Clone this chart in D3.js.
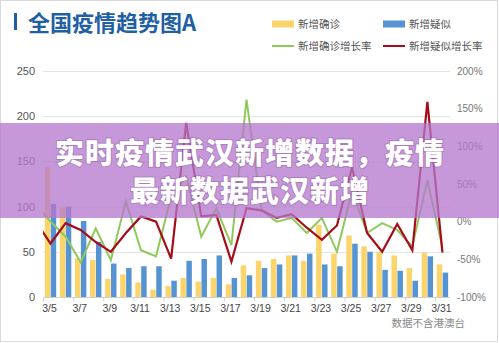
<!DOCTYPE html>
<html><head><meta charset="utf-8">
<script src="https://cdn.jsdelivr.net/npm/d3@7"></script>
<style>
html,body{margin:0;padding:0;background:#fff;}
svg{display:block;}
text{font-family:"Liberation Sans","Noto Sans CJK SC",sans-serif;}
</style></head>
<body>
<script>
const dates = ['3/5','3/6','3/7','3/8','3/9','3/10','3/11','3/12','3/13','3/14','3/15','3/16','3/17','3/18','3/19','3/20','3/21','3/22','3/23','3/24','3/25','3/26','3/27','3/28','3/29','3/30','3/31'];
const confirmed = [144,99,43,41,20,25,16,8,12,21,17,21,14,35,40,42,46,40,80,48,68,56,50,46,32,49,36];
const suspected = [103,100,84,61,37,32,34,34,18,40,42,46,21,24,32,36,46,48,36,34,59,50,30,29,18,45,27];
const rateDates = ['3/4'].concat(dates);
const confirmedRate = [23,0,-20,-54,-9,-51,27,-38,-46,33,60,-20,18,-31,162,15,0,5,-15,5,-40,40,-15,-2,-11,-33,55,-35];
const suspectedRate = [1,-29,-2,-11,-27,-40,-15,7,0,-49,131,7,9,-53,18,15,5,10,-8,-24,-5,72,-15,-40,-3,-38,159,-41];
const leftTicks = [0,50,100,150,200,250];
const rightTicks = [-100,-50,0,50,100,150,200];
const xLabels = ['3/5','3/7','3/9','3/11','3/13','3/15','3/17','3/19','3/21','3/23','3/25','3/27','3/29','3/31'];
const legendItems = [
  {name:'新增确诊', type:'bar', color:'#fbd46c'},
  {name:'新增疑似', type:'bar', color:'#5593d3'},
  {name:'新增确诊增长率', type:'line', color:'#8fc95a'},
  {name:'新增疑似增长率', type:'line', color:'#a50d1a'}
];
const titleText = '全国疫情趋势图A';
const noteText = '数据不含港澳台';
const bannerLines = ['实时疫情武汉新增数据，疫情','最新数据武汉新增'];

const W = 499, H = 343;
const M = {left:43, right:49, top:71, bottom:46};
const svg = d3.select('body').append('svg').attr('width',W).attr('height',H);

svg.append('rect').attr('x',0.5).attr('y',0.5).attr('width',W-2).attr('height',H-2)
  .attr('fill','#fff').attr('stroke','#d9d9d9');

// title
svg.append('rect').attr('x',14).attr('y',13).attr('width',3).attr('height',17).attr('fill','#1f5fa3');
svg.append('text').attr('x',28).attr('y',31).text(titleText)
  .attr('font-size',22).attr('font-weight',700).attr('fill','#1f5fa3')
  .style('font-family','"Noto Sans CJK SC",sans-serif');

// legend
const legPos = [[272,24],[383,24],[272,46],[383,46]];
legendItems.forEach((d,i)=>{
  const [lx,ly] = legPos[i];
  if(d.type==='bar') svg.append('rect').attr('x',lx).attr('y',ly-3.5).attr('width',22).attr('height',7).attr('fill',d.color);
  else svg.append('line').attr('x1',lx).attr('x2',lx+22).attr('y1',ly).attr('y2',ly).attr('stroke',d.color).attr('stroke-width',2);
  svg.append('text').attr('x',lx+26).attr('y',ly+4).text(d.name)
    .attr('font-size',10.5).attr('fill','#555').style('font-family','"Noto Sans CJK SC",sans-serif');
});

const x0 = M.left, x1 = W - M.right, yTop = M.top, yBot = H - M.bottom;
const x = d3.scaleBand().domain(dates).range([x0,x1]).padding(0);
const step = x.step();
const sub = d3.scaleBand().domain(['c','s']).range([1.8, 13.2]).paddingInner(0.08);
const yL = d3.scaleLinear().domain([0,250]).range([yBot,yTop]);
const yR = d3.scaleLinear().domain([-100,200]).range([yBot,yTop]);

// grid
svg.append('g').selectAll('line').data(leftTicks.filter(t=>t>0)).join('line')
  .attr('x1',x0).attr('x2',x1).attr('y1',d=>yL(d)+0.5).attr('y2',d=>yL(d)+0.5)
  .attr('stroke','#e3e3e3').attr('stroke-width',1);

// left axis labels
const axL = d3.axisLeft(yL).tickValues(leftTicks).tickSize(0).tickPadding(8);
const gL = svg.append('g').attr('transform',`translate(${x0},0)`).call(axL);
gL.select('.domain').remove();
gL.selectAll('text').attr('font-size',11).attr('fill','#555').style('font-family','"Liberation Sans",sans-serif');

// right axis labels
const axR = d3.axisRight(yR).tickValues(rightTicks).tickSize(0).tickPadding(7).tickFormat(d=>d+'%');
const gR = svg.append('g').attr('transform',`translate(${x1},0)`).call(axR);
gR.select('.domain').remove();
gR.selectAll('text').attr('font-size',10).attr('fill','#777').style('font-family','"Liberation Sans",sans-serif');

// bars
const bars = svg.append('g');
bars.selectAll('rect.c').data(dates).join('rect').attr('class','c')
  .attr('x',d=>x(d)+sub('c')).attr('width',sub.bandwidth())
  .attr('y',(d,i)=>yL(confirmed[i])).attr('height',(d,i)=>yBot-yL(confirmed[i]))
  .attr('fill','#fbd46c');
bars.selectAll('rect.s').data(dates).join('rect').attr('class','s')
  .attr('x',d=>x(d)+sub('s')).attr('width',sub.bandwidth())
  .attr('y',(d,i)=>yL(suspected[i])).attr('height',(d,i)=>yBot-yL(suspected[i]))
  .attr('fill','#5593d3');

// x axis
svg.append('line').attr('x1',x0).attr('x2',x1).attr('y1',yBot+0.5).attr('y2',yBot+0.5).attr('stroke','#cfcfcf');
const xg = svg.append('g');
xg.selectAll('line').data(xLabels).join('line')
  .attr('x1',d=>x(d)+0.5).attr('x2',d=>x(d)+0.5).attr('y1',yBot).attr('y2',yBot+4).attr('stroke','#cfcfcf');
xg.selectAll('text').data(xLabels).join('text')
  .attr('x',d=>x(d)+step/2-1).attr('y',yBot+15).attr('text-anchor','middle')
  .attr('font-size',10.5).attr('fill','#444').text(d=>d);

// lines (3/4 point lies left of the plot and is clipped)
svg.append('clipPath').attr('id','clip').append('rect')
  .attr('x',x0).attr('y',0).attr('width',x1-x0).attr('height',H);
const xc = (i)=> x(dates[0]) + step/2 + (i-1)*step;
const lineGen = d3.line().x((d,i)=>xc(i)).y(d=>yR(d));
const lg = svg.append('g').attr('clip-path','url(#clip)');
lg.append('path').datum(confirmedRate).attr('d',lineGen).attr('fill','none')
  .attr('stroke','#8fc95a').attr('stroke-width',2).attr('stroke-linejoin','miter');
lg.append('path').datum(suspectedRate).attr('d',lineGen).attr('fill','none')
  .attr('stroke','#a50d1a').attr('stroke-width',2.2).attr('stroke-linejoin','miter');

// note
svg.append('text').attr('x',465).attr('y',327).attr('text-anchor','end').text(noteText)
  .attr('font-size',10.5).attr('fill','#888').style('font-family','"Noto Sans CJK SC",sans-serif');

// banner overlay
svg.append('rect').attr('x',0).attr('y',123).attr('width',W).attr('height',95)
  .attr('fill','rgb(180,120,205)').attr('fill-opacity',0.76);
svg.append('g').selectAll('text').data(bannerLines).join('text')
  .attr('x',250).attr('y',(d,i)=>164+i*38).attr('text-anchor','middle')
  .attr('font-size',29).attr('font-weight',900).attr('fill','#fff')
  .attr('letter-spacing',1)
  .style('font-family','"Noto Sans CJK SC",sans-serif')
  .style('paint-order','stroke').attr('stroke','rgba(90,40,110,0.25)').attr('stroke-width',2)
  .text(d=>d);
</script>
</body></html>
